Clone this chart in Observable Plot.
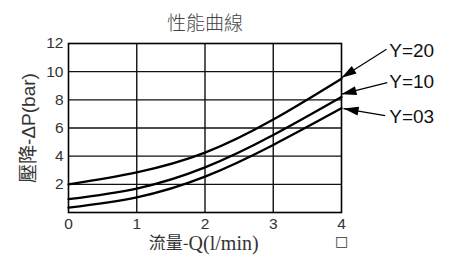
<!DOCTYPE html>
<html>
<head>
<meta charset="utf-8">
<script src="https://cdn.jsdelivr.net/npm/d3@7"></script>
<script src="https://cdn.jsdelivr.net/npm/@observablehq/plot@0.6"></script>
<style>
  html, body { margin: 0; padding: 0; background: #fff; }
</style>
</head>
<body>
<div id="chart"></div>
<script>
// ---- data ----
const flow  = [0, 1, 2, 3, 4];
const dpY20 = [2.0, 2.85, 4.25, 6.6, 9.5];
const dpY10 = [0.95, 1.7, 3.2, 5.5, 8.2];
const dpY03 = [0.35, 1.08, 2.55, 4.8, 7.4];

const xTicks = [0, 1, 2, 3, 4];
const yTicks = [2, 4, 6, 8, 10, 12];
const xGrid = [1, 2, 3];
const yGrid = [2, 4, 6, 8, 10];

const annLabel = ["Y=20", "Y=10", "Y=03"];
const annTextX = [4.70, 4.70, 4.70];
const annTextY = [11.5, 9.3, 6.76];
const annFromX = [4.66, 4.67, 4.64];
const annFromY = [11.6, 9.22, 6.88];
const annTipX  = [4.0, 4.0, 4.03];
const annTipY  = [9.57, 8.4, 7.38];

const title = "性能曲線";
const yLabel = "壓降-ΔP(bar)";
const xLabelCJK = "流量-";
const xLabelLatin = "Q(l/min)";

// ---- build tables ----
const series = [
  {name: "Y=20", vals: dpY20},
  {name: "Y=10", vals: dpY10},
  {name: "Y=03", vals: dpY03}
];
const curves = series.flatMap(s => flow.map((q, i) => ({series: s.name, q, dp: s.vals[i]})));
const ann = annLabel.map((t, i) => ({
  t, tx: annTextX[i], ty: annTextY[i],
  fx: annFromX[i], fy: annFromY[i],
  px: annTipX[i], py: annTipY[i]
}));

const base = {
  width: 450,
  height: 266,
  marginLeft: 68,
  marginRight: 109,
  marginTop: 43,
  marginBottom: 54,
  x: {domain: [0, 4], axis: null},
  y: {domain: [0, 12], axis: null},
  style: {fontFamily: "'Liberation Sans', sans-serif", fontSize: "15px", background: "#fff", overflow: "visible"}
};

// scales for arrowhead orientation
const p0 = Plot.plot({...base, marks: []});
const sx = p0.scale("x"), sy = p0.scale("y");
ann.forEach(d => {
  const dx = sx.apply(d.px) - sx.apply(d.fx);
  const dy = sy.apply(d.py) - sy.apply(d.fy);
  d.rot = Math.atan2(dx, -dy) * 180 / Math.PI;
});

const arrowHead = {
  draw(ctx) {
    ctx.moveTo(0, 0);
    ctx.lineTo(-4.5, 15);
    ctx.lineTo(4.5, 15);
    ctx.closePath();
  }
};

const chart = Plot.plot({
  ...base,
  marks: [
    Plot.ruleX(xGrid, {stroke: "#111", strokeWidth: 1.4}),
    Plot.ruleY(yGrid, {stroke: "#111", strokeWidth: 1.4}),
    Plot.frame({stroke: "#000", strokeWidth: 1.6}),
    Plot.line(curves, {x: "q", y: "dp", z: "series", curve: "natural", stroke: "#000", strokeWidth: 2.3}),
    Plot.axisY({ticks: yTicks, tickFormat: d3.format("d"), tickSize: 0, tickPadding: 5, fontSize: 15.5, fill: "#333", label: null}),
    Plot.axisX({ticks: xTicks, tickFormat: d3.format("d"), tickSize: 0, tickPadding: 5, fontSize: 15.5, fill: "#333", label: null}),
    // annotation arrows
    Plot.link(ann, {x1: "fx", y1: "fy", x2: "px", y2: "py", stroke: "#000", strokeWidth: 1.2}),
    Plot.dot(ann, {x: "px", y: "py", symbol: arrowHead, rotate: "rot", fill: "#000", stroke: "none", r: 5}),
    Plot.text(ann, {x: "tx", y: "ty", text: "t", textAnchor: "start", fontSize: 19, fill: "#111", lineAnchor: "middle"}),
    // title
    Plot.text([title], {frameAnchor: "top", dy: -20, fontSize: 19, fill: "#444", lineAnchor: "middle", fontWeight: 300,
      fontFamily: "'Noto Sans CJK TC', 'Noto Sans CJK SC', sans-serif", letterSpacing: "1px"}),
    // y label
    Plot.text([yLabel], {frameAnchor: "left", dx: -40, rotate: -90, fontSize: 19, fill: "#333", lineAnchor: "middle", textAnchor: "middle",
      fontFamily: "'Liberation Sans', 'Noto Sans CJK TC', sans-serif"}),
    // x label
    Plot.text([xLabelCJK], {x: 1.76, frameAnchor: "bottom", dy: 31, textAnchor: "end", fontSize: 17, fill: "#333", lineAnchor: "middle",
      fontFamily: "'Noto Sans CJK TC', sans-serif"}),
    Plot.text([xLabelLatin], {x: 1.76, frameAnchor: "bottom", dy: 31, textAnchor: "start", fontSize: 20, fill: "#333", lineAnchor: "middle",
      fontFamily: "'Liberation Serif', serif"}),
    Plot.text(["□"], {x: 4, frameAnchor: "bottom", dy: 29, fontSize: 14, fill: "#333", lineAnchor: "middle",
      fontFamily: "'DejaVu Sans', sans-serif"})
  ]
});
document.getElementById("chart").appendChild(chart);
</script>
</body>
</html>
